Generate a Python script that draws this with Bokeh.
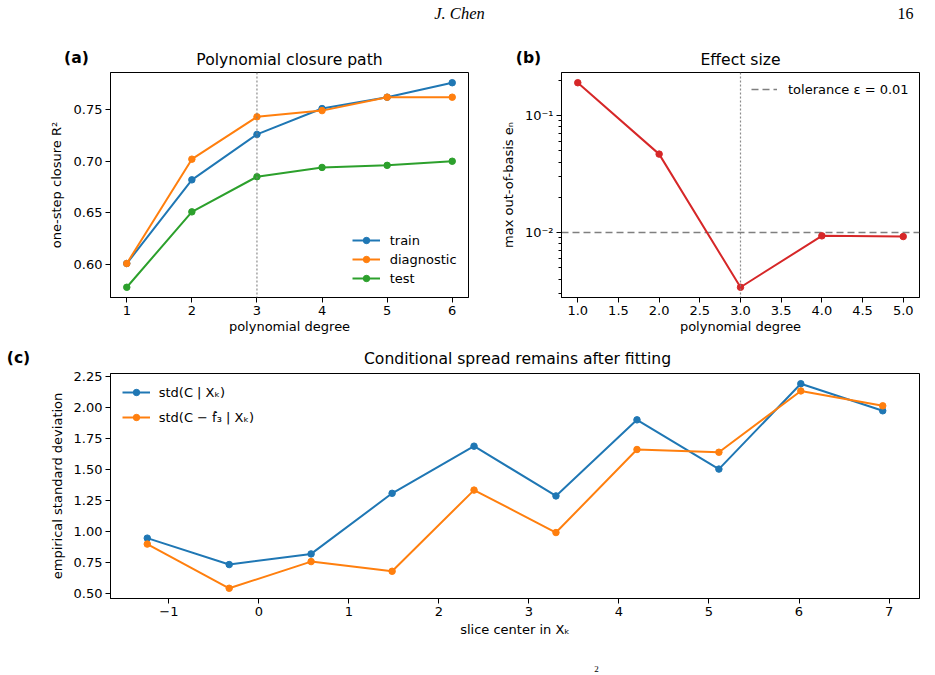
import math
from bokeh.plotting import figure
from bokeh.layouts import column, row
from bokeh.models import (Range1d, Span, Label, Legend, LegendItem, SingleIntervalTicker,
                          FixedTicker, NumeralTickFormatter, CustomJSTickFormatter)
from bokeh.embed import file_html
from bokeh.resources import INLINE

# ---------------- data ----------------
degrees = [1, 2, 3, 4, 5, 6]
r2_train = [0.601, 0.682, 0.726, 0.751, 0.762, 0.776]
r2_diagnostic = [0.601, 0.702, 0.743, 0.749, 0.762, 0.762]
r2_test = [0.578, 0.651, 0.685, 0.694, 0.696, 0.700]
selected_degree = 3

effect_degrees = [1, 2, 3, 4, 5]
effect_size = [0.190, 0.0467, 0.00341, 0.00937, 0.00924]
tolerance = 0.01

slice_centers = [-1.24, -0.33, 0.58, 1.48, 2.39, 3.30, 4.20, 5.11, 6.02, 6.93]
std_c = [0.944, 0.731, 0.817, 1.305, 1.685, 1.284, 1.897, 1.500, 2.188, 1.970]
std_resid = [0.896, 0.540, 0.755, 0.677, 1.331, 0.989, 1.658, 1.636, 2.130, 2.010]

series_a = [("train", r2_train), ("diagnostic", r2_diagnostic), ("test", r2_test)]
label_std_c = "std(C | X\u2096)"
label_std_resid = "std(C \u2212 f\u0302\u2083 | X\u2096)"

BLUE, ORANGE, GREEN, RED = "#1f77b4", "#ff7f0e", "#2ca02c", "#d62728"
FONT = "DejaVu Sans"


def margins(vals, frac=0.05):
    lo, hi = min(vals), max(vals)
    d = (hi - lo) * frac
    return lo - d, hi + d


def style(p):
    p.outline_line_color = "black"
    p.outline_line_width = 1
    p.outline_line_alpha = 1
    p.background_fill_color = "white"
    p.border_fill_color = "white"
    for ax in p.axis:
        ax.axis_line_color = "black"
        ax.axis_line_width = 1
        ax.major_tick_line_color = "black"
        ax.major_tick_line_width = 1
        ax.major_tick_out = 5
        ax.major_tick_in = 0
        ax.minor_tick_line_color = None
        ax.major_label_text_font = FONT
        ax.major_label_text_font_size = "13px"
        ax.major_label_text_color = "black"
        ax.axis_label_text_font = FONT
        ax.axis_label_text_font_size = "13px"
        ax.axis_label_text_font_style = "normal"
        ax.axis_label_text_color = "black"
    p.xaxis.major_label_standoff = 3
    p.xaxis.axis_label_standoff = 1
    p.yaxis.major_label_standoff = 3
    p.grid.visible = False


def add_text(p, text, x, y, side="above", size="15.6px", style_="normal", font=FONT):
    p.add_layout(Label(x=x, y=y, x_units="canvas", y_units="canvas", text=text,
                       text_font=font, text_font_size=size, text_font_style=style_,
                       text_align="center", text_baseline="middle", text_color="black"), side)


def make_legend(items, loc, spacing, glyph_width, standoff):
    return Legend(items=items, location=loc, padding=0, margin=0, spacing=spacing,
                  glyph_width=glyph_width, glyph_height=16, label_height=16,
                  label_standoff=standoff, label_text_font=FONT, label_text_font_size="13px",
                  label_text_color="black", border_line_color=None, background_fill_alpha=0)


# ---------------- panel (a) ----------------
xa = margins(degrees)
ya = margins(r2_train + r2_diagnostic + r2_test)
pa = figure(width=490, height=340, output_backend="svg", toolbar_location=None,
            x_range=Range1d(*xa), y_range=Range1d(*ya),
            min_border_left=110, min_border_right=22, min_border_top=72, min_border_bottom=43)
style(pa)
pa.xaxis.ticker = SingleIntervalTicker(interval=1, num_minor_ticks=0)
pa.yaxis.ticker = SingleIntervalTicker(interval=0.05, num_minor_ticks=0)
pa.yaxis.formatter = NumeralTickFormatter(format="0.00")
pa.xaxis.axis_label = "polynomial degree"
pa.yaxis.axis_label = "one-step closure R\u00b2"
pa.yaxis.axis_label_standoff = 7
pa.add_layout(Span(location=selected_degree, dimension="height", line_color="gray",
                   line_dash="2 2", line_width=1.2, line_alpha=0.9))
items_a = []
for (name, vals), col in zip(series_a, [BLUE, ORANGE, GREEN]):
    r1 = pa.line(degrees, vals, line_color=col, line_width=2)
    r2 = pa.scatter(degrees, vals, marker="circle", size=6.5, fill_color=col, line_color=col)
    items_a.append(LegendItem(label=name, renderers=[r1, r2]))
pa.add_layout(make_legend(items_a, (241.7, 11), 3, 28, 10))
add_text(pa, "(a)", 76, 57, style_="bold")
add_text(pa, "Polynomial closure path", 289, 59)
add_text(pa, "J. Chen", 459, 13, size="16.5px", style_="italic", font="Liberation Serif")

# ---------------- panel (b) ----------------
xb = margins(effect_degrees)
lb = margins([math.log10(v) for v in effect_size])
pb = figure(width=445, height=340, output_backend="svg", toolbar_location=None,
            x_range=Range1d(*xb), y_range=Range1d(10 ** lb[0], 10 ** lb[1]), y_axis_type="log",
            min_border_left=71, min_border_right=16, min_border_top=72, min_border_bottom=43)
style(pb)
pb.xaxis.ticker = SingleIntervalTicker(interval=0.5, num_minor_ticks=0)
pb.xaxis.formatter = NumeralTickFormatter(format="0.0")
minor = [m * 10 ** e for e in (-3, -2, -1) for m in range(2, 10)]
pb.yaxis.ticker = FixedTicker(ticks=[0.001, 0.01, 0.1, 1.0], minor_ticks=minor)
pb.yaxis.formatter = CustomJSTickFormatter(code="""
const e = Math.round(Math.log10(tick));
const sup = {'-':'\u207b','0':'\u2070','1':'\u00b9','2':'\u00b2','3':'\u00b3','4':'\u2074','5':'\u2075','6':'\u2076','7':'\u2077','8':'\u2078','9':'\u2079'};
return '10' + String(e).split('').map(c => sup[c]).join('');
""")
pb.yaxis.minor_tick_line_color = "black"
pb.yaxis.minor_tick_out = 3
pb.yaxis.minor_tick_in = 0
pb.xaxis.axis_label = "polynomial degree"
pb.yaxis.axis_label = "max out-of-basis e\u2099"
pb.yaxis.axis_label_standoff = 6
pb.add_layout(Span(location=selected_degree, dimension="height", line_color="gray",
                   line_dash="2 2", line_width=1.2, line_alpha=0.9))
tol_r = pb.line(list(xb), [tolerance, tolerance], line_color="#7f7f7f", line_dash="7 4",
                line_width=1.6)
pb.line(effect_degrees, effect_size, line_color=RED, line_width=2)
pb.scatter(effect_degrees, effect_size, marker="circle", size=6.5, fill_color=RED, line_color=RED)
pb.add_layout(make_legend([LegendItem(label="tolerance \u03b5 = 0.01", renderers=[tol_r])],
                          (190, 200), 0, 26, 11))
add_text(pb, "(b)", 38, 57, style_="bold")
add_text(pb, "Effect size", 250, 59)
add_text(pb, "16", 415, 13, size="16px", font="Liberation Serif")

# ---------------- panel (c) ----------------
xc = margins(slice_centers)
yc = margins(std_c + std_resid)
pc = figure(width=935, height=335, output_backend="svg", toolbar_location=None,
            x_range=Range1d(*xc), y_range=Range1d(*yc),
            min_border_left=110, min_border_right=16, min_border_top=33, min_border_bottom=77)
style(pc)
pc.xaxis.ticker = SingleIntervalTicker(interval=1, num_minor_ticks=0)
pc.xaxis.formatter = CustomJSTickFormatter(code="return tick < 0 ? '\u2212' + Math.abs(tick) : String(tick);")
pc.yaxis.ticker = SingleIntervalTicker(interval=0.25, num_minor_ticks=0)
pc.yaxis.formatter = NumeralTickFormatter(format="0.00")
pc.xaxis.axis_label = "slice center in X\u2096"
pc.xaxis.axis_label_standoff = 3
pc.yaxis.axis_label = "empirical standard deviation"
pc.yaxis.axis_label_standoff = 6
items_c = []
for lab, vals, col in [(label_std_c, std_c, BLUE), (label_std_resid, std_resid, ORANGE)]:
    r1 = pc.line(slice_centers, vals, line_color=col, line_width=2)
    r2 = pc.scatter(slice_centers, vals, marker="circle", size=6.5, fill_color=col, line_color=col)
    items_c.append(LegendItem(label=lab, renderers=[r1, r2]))
pc.add_layout(make_legend(items_c, (11.7, 173), 9, 28, 9))
add_text(pc, "(c)", 18, 17, side="left", style_="bold")
add_text(pc, "Conditional spread remains after fitting", 517, 18)
add_text(pc, "2", 596, 328, side="below", size="9px", font="Liberation Serif")

layout = column(row(pa, pb), pc)
open("out.html", "w").write(file_html(layout, INLINE))
